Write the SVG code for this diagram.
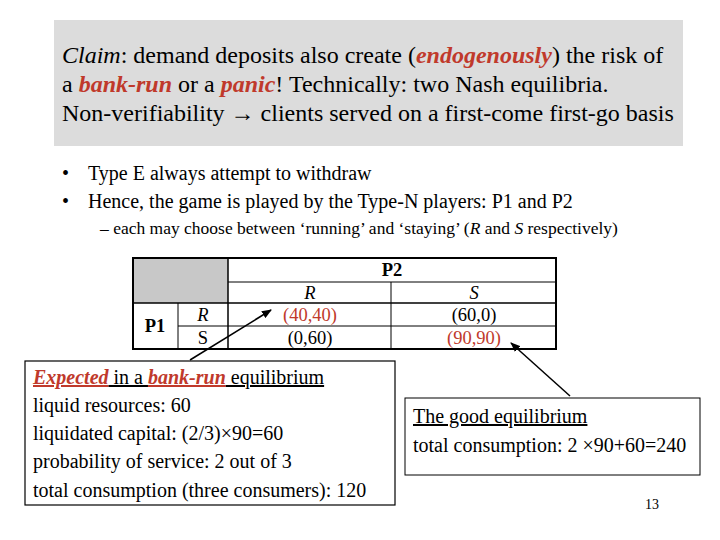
<svg xmlns="http://www.w3.org/2000/svg" width="720" height="540" viewBox="0 0 720 540" font-family="'Liberation Serif', Tinos, 'DejaVu Serif', serif">
<style>
text{font-family:'Liberation Serif', Tinos, 'DejaVu Serif', serif;fill:#000}
.t{font-size:24px}
.b{font-size:20px}
.s{font-size:17.5px}
.c{font-size:18.5px;text-anchor:middle}
.red{fill:#c0392b}
.line{stroke:#000;stroke-width:1.5;fill:none}
</style>
<defs><marker id="ah" markerWidth="10" markerHeight="8" refX="9" refY="4" orient="auto" markerUnits="userSpaceOnUse"><path d="M0,0 L10,4 L0,8 z" fill="#000"/></marker></defs>
<rect width="720" height="540" fill="#fff"/>
<g id="claim">
<rect x="54" y="20" width="629" height="126" fill="#dcdcdc"/>
<text class="t" x="62" y="63"><tspan font-style="italic">Claim</tspan>: demand deposits also create (<tspan class="red" font-style="italic" font-weight="bold">endogenously</tspan>) the risk of</text>
<text class="t" x="62" y="92">a <tspan class="red" font-style="italic" font-weight="bold">bank-run</tspan> or a <tspan class="red" font-style="italic" font-weight="bold">panic</tspan>! Technically: two Nash equilibria.</text>
<text class="t" x="62" y="121">Non-verifiability → clients served on a first-come first-go basis</text>
</g>
<g id="bullets">
<text class="b" x="62" y="180">•</text><text class="b" x="88" y="180">Type E always attempt to withdraw</text>
<text class="b" x="62" y="208">•</text><text class="b" x="88" y="208">Hence, the game is played by the Type-N players: P1 and P2</text>
<text class="s" x="100" y="234">– each may choose between ‘running’ and ‘staying’ (<tspan font-style="italic">R</tspan> and <tspan font-style="italic">S</tspan> respectively)</text>
</g>
<g id="table">
<rect x="133" y="258" width="95" height="45" fill="#c8c8c8"/>
<g stroke="#000" stroke-width="1" fill="none">
<rect x="133" y="258" width="423" height="91" stroke-width="2"/>
<line x1="228" y1="258" x2="228" y2="349" stroke-width="1.5"/>
<line x1="228" y1="282" x2="556" y2="282"/>
<line x1="133" y1="303" x2="556" y2="303" stroke-width="1.5"/>
<line x1="178" y1="326" x2="556" y2="326"/>
<line x1="178" y1="303" x2="178" y2="349"/>
<line x1="391" y1="282" x2="391" y2="349"/>
</g>
<text class="c" x="392" y="276" font-weight="bold">P2</text>
<text class="c" x="310" y="299" font-style="italic">R</text>
<text class="c" x="474" y="299" font-style="italic">S</text>
<text class="c" x="155" y="332" font-weight="bold">P1</text>
<text class="c" x="203" y="321" font-style="italic">R</text>
<text class="c" x="203" y="344">S</text>
<text class="c red" x="310" y="321">(40,40)</text>
<text class="c" x="474" y="321">(60,0)</text>
<text class="c" x="310" y="344">(0,60)</text>
<text class="c red" x="474" y="344">(90,90)</text>
</g>
<g id="connectors">
<line class="line" x1="190" y1="360" x2="271" y2="310" marker-end="url(#ah)"/>
<line class="line" x1="570" y1="396" x2="511" y2="343" marker-end="url(#ah)"/>
</g>
<g id="bankrun">
<rect x="25" y="361" width="370" height="144" fill="#fff" stroke="#000" stroke-width="1.2"/>
<text class="b" x="33" y="384"><tspan class="red" font-style="italic" font-weight="bold" text-decoration="underline">Expected</tspan><tspan text-decoration="underline"> in a </tspan><tspan class="red" font-style="italic" font-weight="bold" text-decoration="underline">bank-run</tspan><tspan text-decoration="underline"> equilibrium</tspan></text>
<text class="b" x="33" y="412">liquid resources: 60</text>
<text class="b" x="33" y="440">liquidated capital: (2/3)×90=60</text>
<text class="b" x="33" y="468">probability of service: 2 out of 3</text>
<text class="b" x="33" y="497">total consumption (three consumers): 120</text>
</g>
<g id="good">
<rect x="405" y="398" width="295" height="77" fill="#fff" stroke="#000" stroke-width="1"/>
<text class="b" x="413" y="423" text-decoration="underline">The good equilibrium</text>
<text class="b" x="413" y="452">total consumption: 2 ×90+60=240</text>
</g>
<text x="645" y="509" font-size="14">13</text>
</svg>
